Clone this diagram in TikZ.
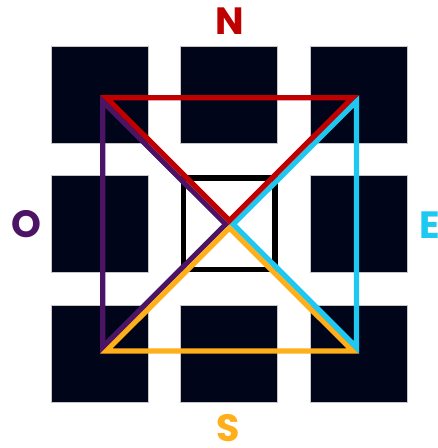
\documentclass[tikz,border=0pt]{standalone}
\usepackage{fontspec}
\newfontfamily\lblfont{Poppins}
\definecolor{tilec}{RGB}{0,5,26}
\definecolor{nred}{RGB}{192,0,0}
\definecolor{opurple}{RGB}{75,20,100}
\definecolor{ecyan}{RGB}{30,200,240}
\definecolor{sorange}{RGB}{255,175,25}
\tikzset{
  tile/.style={fill=tilec, draw=gray!45, line width=0.6pt, minimum width=97pt, minimum height=97pt, inner sep=0pt, anchor=north west},
  hollowtile/.style={fill=white, draw=black, line width=5.5pt, minimum width=91.5pt, minimum height=91.5pt, inner sep=0pt, anchor=center},
  tri/.style={line width=10.5pt, line join=miter},
  lbl/.style={font=\lblfont\bfseries\fontsize{38}{38}\selectfont, inner sep=0pt}
}
\begin{document}
\begin{tikzpicture}[x=1pt,y=-1pt]
\useasboundingbox[fill=white] (0,0) rectangle (438,448);
% tiles
\node[tile] (t11) at (50.5,45.5) {};
\node[tile] (t12) at (180,45.5) {};
\node[tile] (t13) at (309.5,45.5) {};
\node[tile] (t21) at (50.5,175) {};
\node[hollowtile] (t22) at (229,223.5) {};
\node[tile] (t23) at (309.5,175) {};
\node[tile] (t31) at (50.5,304.5) {};
\node[tile] (t32) at (180,304.5) {};
\node[tile] (t33) at (309.5,304.5) {};
% triangle corners
\coordinate (TL) at (100,95);
\coordinate (TR) at (359,95);
\coordinate (BL) at (100,353.5);
\coordinate (BR) at (359,353.5);
\coordinate (C) at (229.5,224.25);
% triangles, stroked inside
\begin{scope}
\clip (TL) -- (BL) -- (C) -- cycle;
\draw[tri, opurple] (TL) -- (BL) -- (C) -- cycle;
\end{scope}
\begin{scope}
\clip (BL) -- (BR) -- (C) -- cycle;
\draw[tri, sorange] (BL) -- (BR) -- (C) -- cycle;
\end{scope}
\begin{scope}
\clip (TR) -- (BR) -- (C) -- cycle;
\draw[tri, ecyan] (TR) -- (BR) -- (C) -- cycle;
\end{scope}
\begin{scope}
\clip (TL) -- (TR) -- (C) -- cycle;
\draw[tri, nred] (TL) -- (TR) -- (C) -- cycle;
\end{scope}
% labels
\node[lbl, text=nred] (N) at (229.5,21) {N};
\node[lbl, text=opurple] (O) at (26.5,224.5) {O};
\node[lbl, text=ecyan, anchor=west] (E) at (419.5,225) {E};
\node[lbl, text=sorange] (S) at (228.5,428.5) {S};
\end{tikzpicture}
\end{document}
